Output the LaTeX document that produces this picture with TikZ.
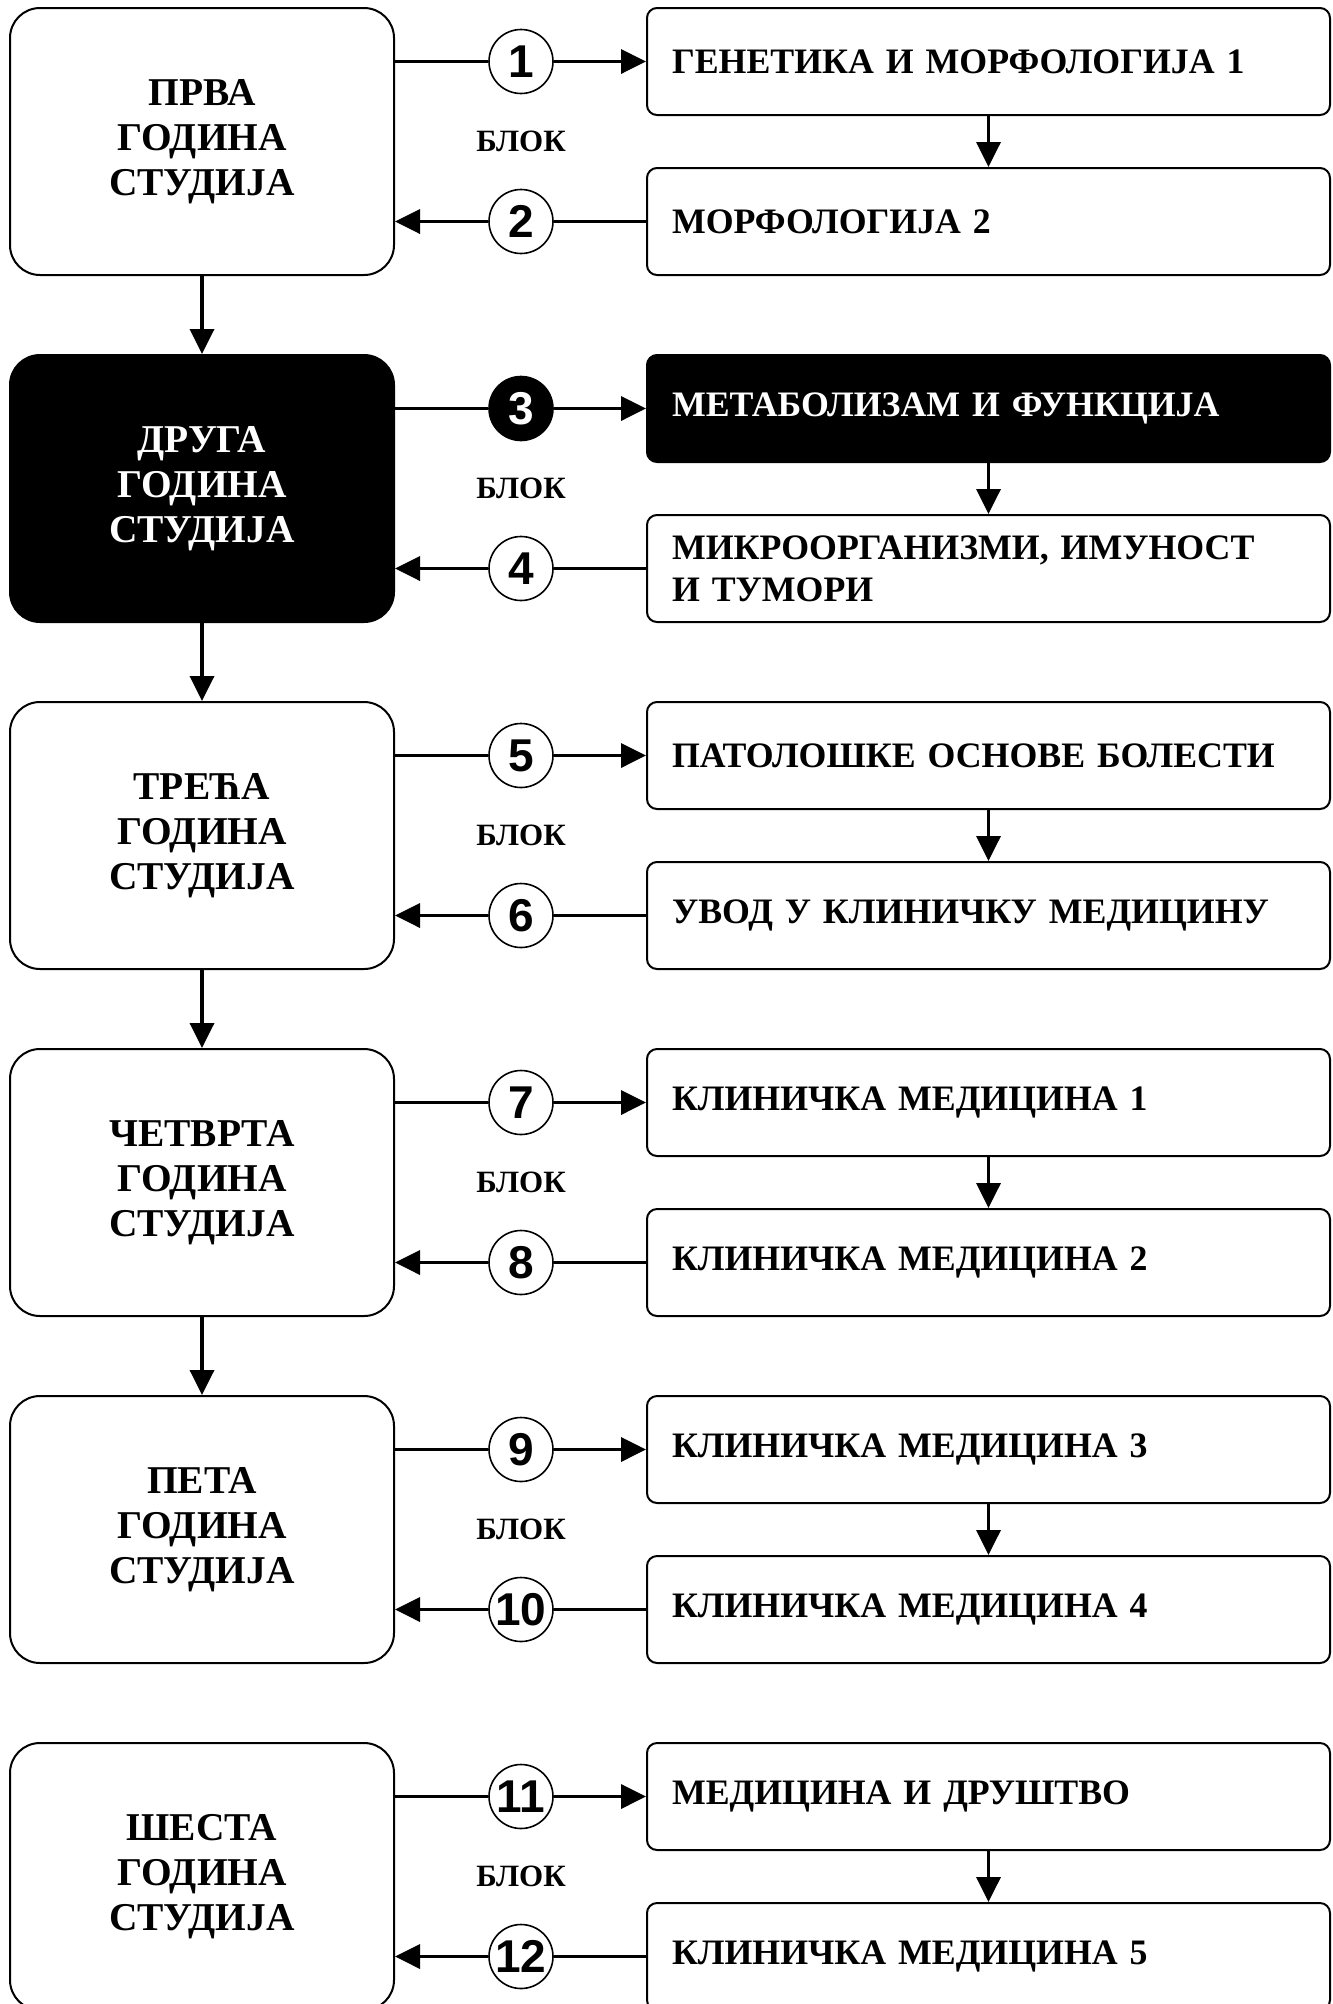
\documentclass[tikz,border=0pt]{standalone}
\usepackage{fontspec}
\setmainfont{Liberation Serif}
\newfontfamily\numfont{Liberation Sans}
\usetikzlibrary{positioning, arrows.meta}

\begin{document}
\begin{tikzpicture}
    [
        x=0.5pt, y=-0.5pt,
        node distance=173.5pt and 159.5pt, on grid,
        year_node/.style={rectangle, rounded corners=15pt, draw=black, line width=1pt, fill=white, minimum width=192pt, minimum height=133.5pt, align=center, font=\fontsize{19.7}{22.5}\selectfont\bfseries},
        subj_node/.style={rectangle, rounded corners=5pt, draw=black, line width=1pt, fill=white, minimum height=53.5pt, text width=316.5pt, inner xsep=12.5pt, align=left, font=\fontsize{17.9}{21}\selectfont\bfseries},
        num_node/.style={circle, draw=black, line width=0.8pt, fill=white, minimum size=32pt, inner sep=0pt, font=\numfont\fontsize{23}{23}\selectfont\bfseries},
        blok_node/.style={font=\fontsize{15.5}{15.5}\selectfont\bfseries},
        dark/.style={fill=black, text=white},
        link/.style={line width=1.8pt, -{Triangle[length=12.5pt, width=12pt]}},
        plain_link/.style={line width=1.8pt},
    ]
        \useasboundingbox (0,0) rectangle (1333,2004);
        % years of study
        \node[year_node] (year1) at (202,141.5) {ПРВА\\ГОДИНА\\СТУДИЈА} ;
        \node[year_node, dark] (year2) [below = of year1] {ДРУГА\\ГОДИНА\\СТУДИЈА} ;
        \node[year_node] (year3) [below = of year2] {ТРЕЋА\\ГОДИНА\\СТУДИЈА} ;
        \node[year_node] (year4) [below = of year3] {ЧЕТВРТА\\ГОДИНА\\СТУДИЈА} ;
        \node[year_node] (year5) [below = of year4] {ПЕТА\\ГОДИНА\\СТУДИЈА} ;
        \node[year_node] (year6) [below = of year5] {ШЕСТА\\ГОДИНА\\СТУДИЈА} ;
        % block labels
        \node[blok_node] (blok1) [right = of year1] {БЛОК} ;
        \node[blok_node] (blok2) [right = of year2] {БЛОК} ;
        \node[blok_node] (blok3) [right = of year3] {БЛОК} ;
        \node[blok_node] (blok4) [right = of year4] {БЛОК} ;
        \node[blok_node] (blok5) [right = of year5] {БЛОК} ;
        \node[blok_node] (blok6) [right = of year6] {БЛОК} ;
        % numbered circles
        \node[num_node] (num1) [above = 40pt of blok1] {1} ;
        \node[num_node] (num2) [below = 40pt of blok1] {2} ;
        \node[num_node, dark] (num3) [above = 40pt of blok2] {3} ;
        \node[num_node] (num4) [below = 40pt of blok2] {4} ;
        \node[num_node] (num5) [above = 40pt of blok3] {5} ;
        \node[num_node] (num6) [below = 40pt of blok3] {6} ;
        \node[num_node] (num7) [above = 40pt of blok4] {7} ;
        \node[num_node] (num8) [below = 40pt of blok4] {8} ;
        \node[num_node] (num9) [above = 40pt of blok5] {9} ;
        \node[num_node] (num10) [below = 40pt of blok5] {10} ;
        \node[num_node] (num11) [above = 40pt of blok6] {11} ;
        \node[num_node] (num12) [below = 40pt of blok6] {12} ;
        % subjects
        \node[subj_node] (subj1) [right = 233.75pt of num1] {ГЕНЕТИКА И МОРФОЛОГИЈА 1} ;
        \node[subj_node] (subj2) [right = 233.75pt of num2] {МОРФОЛОГИЈА 2} ;
        \node[subj_node, dark] (subj3) [right = 233.75pt of num3] {МЕТАБОЛИЗАМ И ФУНКЦИЈА} ;
        \node[subj_node] (subj4) [right = 233.75pt of num4] {МИКРООРГАНИЗМИ, ИМУНОСТ\\И ТУМОРИ} ;
        \node[subj_node] (subj5) [right = 233.75pt of num5] {ПАТОЛОШКЕ ОСНОВЕ БОЛЕСТИ} ;
        \node[subj_node] (subj6) [right = 233.75pt of num6] {УВОД У КЛИНИЧКУ МЕДИЦИНУ} ;
        \node[subj_node] (subj7) [right = 233.75pt of num7] {КЛИНИЧКА МЕДИЦИНА 1} ;
        \node[subj_node] (subj8) [right = 233.75pt of num8] {КЛИНИЧКА МЕДИЦИНА 2} ;
        \node[subj_node] (subj9) [right = 233.75pt of num9] {КЛИНИЧКА МЕДИЦИНА 3} ;
        \node[subj_node] (subj10) [right = 233.75pt of num10] {КЛИНИЧКА МЕДИЦИНА 4} ;
        \node[subj_node] (subj11) [right = 233.75pt of num11] {МЕДИЦИНА И ДРУШТВО} ;
        \node[subj_node] (subj12) [right = 233.75pt of num12] {КЛИНИЧКА МЕДИЦИНА 5} ;
        % year to year
        \draw[link] (year1) to (year2) ;
        \draw[link] (year2) to (year3) ;
        \draw[link] (year3) to (year4) ;
        \draw[link] (year4) to (year5) ;
        % outgoing rows
        \draw[plain_link] (year1.east |- num1) to (num1) ;
        \draw[link] (num1) to (subj1) ;
        \draw[plain_link] (year2.east |- num3) to (num3) ;
        \draw[link] (num3) to (subj3) ;
        \draw[plain_link] (year3.east |- num5) to (num5) ;
        \draw[link] (num5) to (subj5) ;
        \draw[plain_link] (year4.east |- num7) to (num7) ;
        \draw[link] (num7) to (subj7) ;
        \draw[plain_link] (year5.east |- num9) to (num9) ;
        \draw[link] (num9) to (subj9) ;
        \draw[plain_link] (year6.east |- num11) to (num11) ;
        \draw[link] (num11) to (subj11) ;
        % subject to subject
        \draw[link] (subj1) to (subj2) ;
        \draw[link] (subj3) to (subj4) ;
        \draw[link] (subj5) to (subj6) ;
        \draw[link] (subj7) to (subj8) ;
        \draw[link] (subj9) to (subj10) ;
        \draw[link] (subj11) to (subj12) ;
        % returning rows
        \draw[plain_link] (subj2) to (num2) ;
        \draw[link] (num2) to (year1.east |- num2) ;
        \draw[plain_link] (subj4) to (num4) ;
        \draw[link] (num4) to (year2.east |- num4) ;
        \draw[plain_link] (subj6) to (num6) ;
        \draw[link] (num6) to (year3.east |- num6) ;
        \draw[plain_link] (subj8) to (num8) ;
        \draw[link] (num8) to (year4.east |- num8) ;
        \draw[plain_link] (subj10) to (num10) ;
        \draw[link] (num10) to (year5.east |- num10) ;
        \draw[plain_link] (subj12) to (num12) ;
        \draw[link] (num12) to (year6.east |- num12) ;
    \end{tikzpicture}
\end{document}
